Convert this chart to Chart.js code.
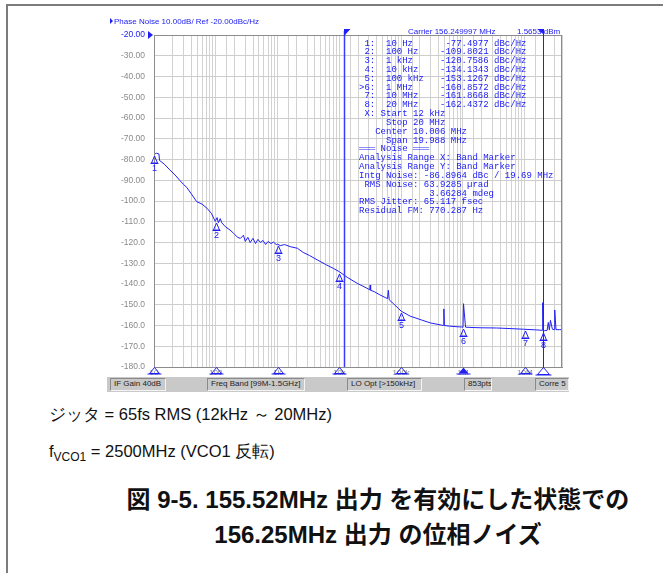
<!DOCTYPE html>
<html>
<head>
<meta charset="utf-8">
<script src="https://cdn.jsdelivr.net/npm/chart.js@4.4.1/dist/chart.umd.min.js"></script>
<style>
  body { margin: 0; width: 663px; height: 573px; overflow: hidden; background: #fff; position: relative; font-family: "Liberation Sans", Arial, sans-serif; }
  #frame { position: absolute; left: 6px; top: 4px; width: 670px; height: 600px; border-top: 2px solid #7c7c7c; border-left: 2px solid #7c7c7c; }
  #chart { position: absolute; left: 0; top: 0; }
  #status { position: absolute; left: 107px; top: 377px; width: 462px; height: 15px; background: #c9c9c9; }
  #status span { position: absolute; top: 1px; height: 13px; line-height: 11px; font: 8px "Liberation Sans", sans-serif; color: #222; padding-left: 3px; box-sizing: border-box;
                 white-space: nowrap; overflow: hidden;
                 border-top: 1px solid #8a8a8a; border-left: 1px solid #8a8a8a; border-bottom: 1px solid #f4f4f4; border-right: 1px solid #f4f4f4; }
  .cap { position: absolute; left: 49px; font-size: 16.5px; color: #111; white-space: nowrap; }
  .cap sub { font-size: 12px; vertical-align: -4px; }
  .title { position: absolute; left: 78px; width: 600px; text-align: center; font: bold 24px "Liberation Sans", "Noto Sans CJK JP", sans-serif; color: #111; white-space: nowrap; line-height: 27px; }
</style>
</head>
<body>
<div id="frame"></div>
<canvas id="chart" width="663" height="400"></canvas>
<div id="status">
  <span style="left:3px;width:56px;">IF Gain 40dB</span>
  <span style="left:100px;width:98px;">Freq Band [99M-1.5GHz]</span>
  <span style="left:240px;width:75px;">LO Opt [&gt;150kHz]</span>
  <span style="left:357px;width:28px;">853pts</span>
  <span style="left:428px;width:34px;">Corre 5</span>
</div>
<div class="cap" style="top:404px;">ジッタ = 65fs RMS (12kHz ～ 20MHz)</div>
<div class="cap" style="top:441px;">f<sub>VCO1</sub> = 2500MHz (VCO1 反転)</div>
<div class="title" style="top:486px;">図 9-5. 155.52MHz 出力 を有効にした状態での</div>
<div class="title" style="top:521px;">156.25MHz 出力 の位相ノイズ</div>

<script>
const freqs = [10, 10.5, 11, 12, 12.3, 13, 15, 18, 22, 26, 30, 34, 40, 49, 60, 72, 85, 98, 105, 110, 118, 125, 143, 170, 195,
  225, 250, 280, 300, 330, 360, 400, 440, 480, 530, 580, 640, 700, 780, 860, 950, 1000, 1100, 1300, 1600, 2100, 2600, 3300,
  4400, 6000, 8000, 10000, 13400, 19500, 27000, 31000, 31500, 32000, 36600, 45000, 55000, 60000, 62000, 64000, 75000,
  100000, 140000, 211000, 300000, 450000, 480000, 490000, 500000, 600000, 800000, 950000, 1000000, 1020000, 1050000,
  1100000, 1500000, 2000000, 3500000, 6000000, 9600000, 15000000, 19000000, 19500000, 20000000, 21000000, 23000000,
  24000000, 25000000, 26000000, 28000000, 30000000, 30500000, 32000000, 36000000, 39500000, 40000000];
const noise = [-77.5, -77.2, -77.0, -77.3, -80.5, -81.0, -82.5, -85.0, -87.5, -90.0, -92.0, -93.5, -96.5, -100.3, -101.5,
  -103.5, -106.0, -109.8, -108.0, -110.5, -108.5, -110.5, -112.4, -114.0, -115.6, -117.5, -118.0, -116.5, -119.5, -117.5,
  -120.0, -118.0, -120.5, -118.5, -120.0, -119.0, -121.0, -119.5, -120.5, -119.8, -121.0, -120.8, -121.5, -121.0, -122.0,
  -122.8, -124.8, -126.3, -128.4, -130.6, -132.5, -134.1, -136.8, -139.7, -141.8, -142.8, -140.5, -143.0, -143.7, -145.2,
  -146.5, -147.0, -143.0, -147.6, -149.5, -153.1, -155.5, -157.3, -158.8, -159.8, -160.0, -152.0, -160.0, -160.3, -160.6,
  -160.7, -160.9, -149.5, -154.0, -160.8, -161.0, -161.1, -161.2, -161.5, -161.8, -162.1, -162.3, -149.0, -162.4, -162.5,
  -162.3, -158.5, -162.2, -157.5, -161.8, -162.0, -152.5, -162.0, -162.0, -162.0, -148.5];

// markers
const markerFreqs = [10, 100, 1000, 10000, 100000, 1000000, 10000000, 20000000];
const markerVals = [-77.4977, -109.8021, -120.7586, -134.1343, -153.1267, -160.8572, -161.8668, -162.4372];
const markerUnits = ['10 Hz', '100 Hz', '1 kHz', '10 kHz', '100 kHz', '1 MHz', '10 MHz', '20 MHz'];
const bandStart = 12000;
const bandStop = 20000000;

const yTicksMin = -180, yTicksMax = -20;
const decadeLabels = { 1: '10', 2: '100', 3: '1k', 4: '10k', 5: '100k', 6: '1M', 7: '10M' };

const noiseLines = [
  '═══ Noise ═══',
  'Analysis Range X: Band Marker',
  'Analysis Range Y: Band Marker',
  'Intg Noise: -86.8964 dBc / 19.69 MHz',
  ' RMS Noise: 63.9285 µrad',
  '             3.66284 mdeg',
  'RMS Jitter: 65.117 fsec',
  'Residual FM: 770.287 Hz'
];

const BLUE = '#2020f4';
const points = freqs.map((f, i) => ({ x: f, y: noise[i] }));

function pad(s, n) { while (s.length < n) s += ' '; return s; }

const overlay = {
  id: 'overlay',
  afterDraw(chart) {
    const c = chart.ctx, a = chart.chartArea;
    const xs = chart.scales.x, ys = chart.scales.y;
    c.save();

    // plot frame
    c.strokeStyle = '#8c8c8c';
    c.lineWidth = 1;
    c.strokeRect(a.left + 0.5, a.top + 0.5, a.right - a.left - 1, a.bottom - a.top);

    // band marker lines
    const x1 = Math.round(xs.getPixelForValue(bandStart)) + 0.5;
    const x2 = Math.round(xs.getPixelForValue(bandStop)) + 0.5;
    c.strokeStyle = '#3a3aff';
    c.lineWidth = 1.5;
    c.beginPath(); c.moveTo(x1, a.top - 4); c.lineTo(x1, a.bottom); c.stroke();
    c.strokeStyle = BLUE;
    c.lineWidth = 1;
    c.beginPath(); c.moveTo(x2, a.top - 4); c.lineTo(x2, a.bottom + 1); c.stroke();
    c.fillStyle = BLUE;
    c.beginPath(); c.moveTo(x1 - 0.5, a.top - 6); c.lineTo(x1 + 6, a.top - 6); c.lineTo(x1 - 0.5, a.top + 1); c.fill();
    c.beginPath(); c.moveTo(x2 - 6, a.top - 6); c.lineTo(x2 + 0.5, a.top - 6); c.lineTo(x2 + 0.5, a.top); c.fill();

    // reference level arrow
    const yr = ys.getPixelForValue(-20);
    c.beginPath(); c.moveTo(a.left - 6, yr - 4); c.lineTo(a.left - 6, yr + 4); c.lineTo(a.left - 1, yr); c.fill();

    // triangles along the frequency axis
    c.strokeStyle = BLUE;
    c.lineWidth = 1;
    const tri = (x, y, w, h, fill) => {
      c.beginPath(); c.moveTo(x, y); c.lineTo(x - w, y + h); c.lineTo(x + w, y + h); c.closePath();
      if (fill) c.fill(); else c.stroke();
      c.beginPath(); c.moveTo(x - w - 2, y + h + 0.5); c.lineTo(x + w + 2, y + h + 0.5); c.stroke();
    };
    [10, 100, 1000, 10000, 100000, 1000000, 10000000].forEach(f => {
      tri(Math.round(xs.getPixelForValue(f)) + 0.5, a.bottom + 0.5, 5, 6, f === 1000000);
    });
    tri(x2, a.bottom + 0.5, 6, 7, false);

    // markers on the trace
    c.font = '9px "Liberation Sans", sans-serif';
    c.textAlign = 'center';
    c.textBaseline = 'middle';
    markerFreqs.forEach((f, i) => {
      const x = Math.round(xs.getPixelForValue(f)) + 0.5;
      const y = Math.round(ys.getPixelForValue(markerVals[i]));
      c.beginPath(); c.moveTo(x, y + 2); c.lineTo(x - 3, y + 9); c.lineTo(x + 3, y + 9); c.closePath(); c.stroke();
      c.beginPath(); c.moveTo(x - 4, y + 9.5); c.lineTo(x + 4, y + 9.5); c.stroke();
      c.fillText(String(i + 1), x, y + 15);
    });

    // header
    c.textAlign = 'left';
    c.textBaseline = 'alphabetic';
    c.font = '8px "Liberation Sans", sans-serif';
    c.fillStyle = BLUE;
    c.beginPath(); c.moveTo(110, 18); c.lineTo(110, 24); c.lineTo(113, 21); c.fill();
    c.fillText('Phase Noise 10.00dB/ Ref -20.00dBc/Hz', 114, 24);
    c.fillText('Carrier 156.249997 MHz', 408, 34);
    c.fillText('1.5653 dBm', 517, 34);

    // marker table
    c.font = '9px "Liberation Mono", monospace';
    const lines = markerUnits.map((u, i) => {
      const v = markerVals[i].toFixed(4);
      return pad((i === 5 ? '>' : ' ') + (i + 1) + ':  ' + u, 24 - v.length) + v + ' dBc/Hz';
    });
    lines.push(' X: Start 12 kHz', '     Stop 20 MHz', '   Center 10.006 MHz', '     Span 19.988 MHz');
    noiseLines.forEach(l => lines.push(l));
    lines.forEach((l, k) => c.fillText(l, 359, 45.5 + k * 8.83));

    c.restore();
  }
};

new Chart(document.getElementById('chart'), {
  type: 'line',
  data: {
    datasets: [{
      data: points,
      borderColor: BLUE,
      borderWidth: 1,
      pointRadius: 0,
      tension: 0
    }]
  },
  options: {
    responsive: false,
    animation: false,
    devicePixelRatio: 1,
    layout: { padding: { left: 104, right: 101, top: 35, bottom: 13 } },
    plugins: { legend: { display: false }, tooltip: { enabled: false } },
    scales: {
      x: {
        type: 'logarithmic',
        min: 10,
        max: 40000000,
        afterFit: s => { s.height = 20; },
        grid: { color: '#d2d2d2', drawTicks: false },
        border: { color: '#8c8c8c' },
        ticks: {
          autoSkip: false,
          maxRotation: 0,
          padding: 1,
          color: '#8a8a8a',
          font: { size: 8, family: '"Liberation Sans", sans-serif' },
          callback: v => {
            const l = Math.log10(v);
            return Math.abs(l - Math.round(l)) < 1e-9 ? (decadeLabels[Math.round(l)] || '') : '';
          }
        }
      },
      y: {
        min: yTicksMin,
        max: yTicksMax,
        afterFit: s => { s.width = 50; },
        grid: { color: '#cdcdcd', drawTicks: false },
        border: { color: '#8c8c8c' },
        ticks: {
          stepSize: 10,
          padding: 9,
          font: { size: 8.5, family: '"Liberation Sans", sans-serif' },
          color: ctx => ctx.tick && ctx.tick.value === -20 ? BLUE : '#8a8a8a',
          callback: v => v > -100 ? v.toFixed(2) : v.toFixed(1)
        }
      }
    }
  },
  plugins: [overlay]
});
</script>
</body>
</html>
